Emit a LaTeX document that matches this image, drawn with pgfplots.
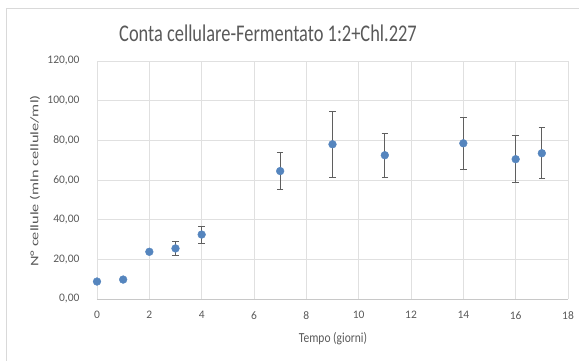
\documentclass[border=0pt]{standalone}
\usepackage{pgfplots}
\pgfplotsset{compat=1.18}
\usepackage{graphicx}
\usepackage{fontspec}
\setmainfont{Carlito}

\definecolor{txtgrey}{HTML}{595959}
\definecolor{gridgrey}{HTML}{E0E0E0}
\definecolor{axisgrey}{HTML}{C8C8C8}
\definecolor{framegrey}{HTML}{D9D9D9}
\definecolor{ptblue}{HTML}{5585BE}
\definecolor{errgrey}{HTML}{5F5F5F}

% cell counts (mln cells/ml) with standard deviations
\pgfplotstableread{
t   n     e
0   8.8   0
1   9.8   0
2   23.8  0
3   25.5  3.6
4   32.5  4.2
7   64.5  9.2
9   78.0  16.5
11  72.5  11.0
14  78.5  13.3
16  70.5  11.8
17  73.5  12.8
}\conta

\begin{document}
\begin{tikzpicture}[x=1pt,y=1pt]
\useasboundingbox (0,0) rectangle (579,361);
\draw[framegrey, line width=0.8pt] (6,-5) rectangle (585,353);
\begin{axis}[
  at={(97pt,62pt)}, anchor=south west,
  scale only axis, width=471pt, height=238pt,
  xmin=0, xmax=18, ymin=0, ymax=120,
  xtick={0,2,...,18}, ytick={0,20,...,120},
  grid=major,
  major grid style={gridgrey, line width=0.8pt},
  axis line style={draw=none},
  axis x line*=bottom, axis y line*=left,
  tick style={draw=none},
  ticklabel style={font=\fontsize{11.5}{13}\selectfont, text=txtgrey},
  /pgf/number format/assume math mode=true,
  yticklabel={\pgfmathprintnumber[fixed,fixed zerofill,precision=2,use comma,1000 sep={}]{\tick}},
  xticklabel style={yshift=-9pt},
  yticklabel style={xshift=-14pt},
  clip=false,
]
\draw[axisgrey, line width=0.8pt] (axis cs:0,0) -- (axis cs:18,0);
\addplot[
  only marks, mark=*, mark size=3.9pt,
  mark options={fill=ptblue, draw=ptblue},
  error bars/.cd, y dir=both, y explicit,
  error bar style={errgrey, line width=0.7pt},
  error mark options={rotate=90, mark size=3.2pt, errgrey, line width=0.7pt},
] table[x=t, y=n, y error=e] {\conta};
\end{axis}
% chart title and axis titles
\node[text=txtgrey, font=\fontsize{18.4}{22}\selectfont] at (268,328)
  {\scalebox{1}[1.3]{Conta cellulare-Fermentato 1:2+Chl.227}};
\node[text=txtgrey, font=\fontsize{11.5}{13}\selectfont] at (333,22)
  {\scalebox{1}[1.2]{Tempo (giorni)}};
\node[text=txtgrey, font=\fontsize{11.5}{13}\selectfont, rotate=90] at (35,180)
  {\scalebox{1.42}[1]{N° cellule (mln cellule/ml)}};
\end{tikzpicture}
\end{document}
